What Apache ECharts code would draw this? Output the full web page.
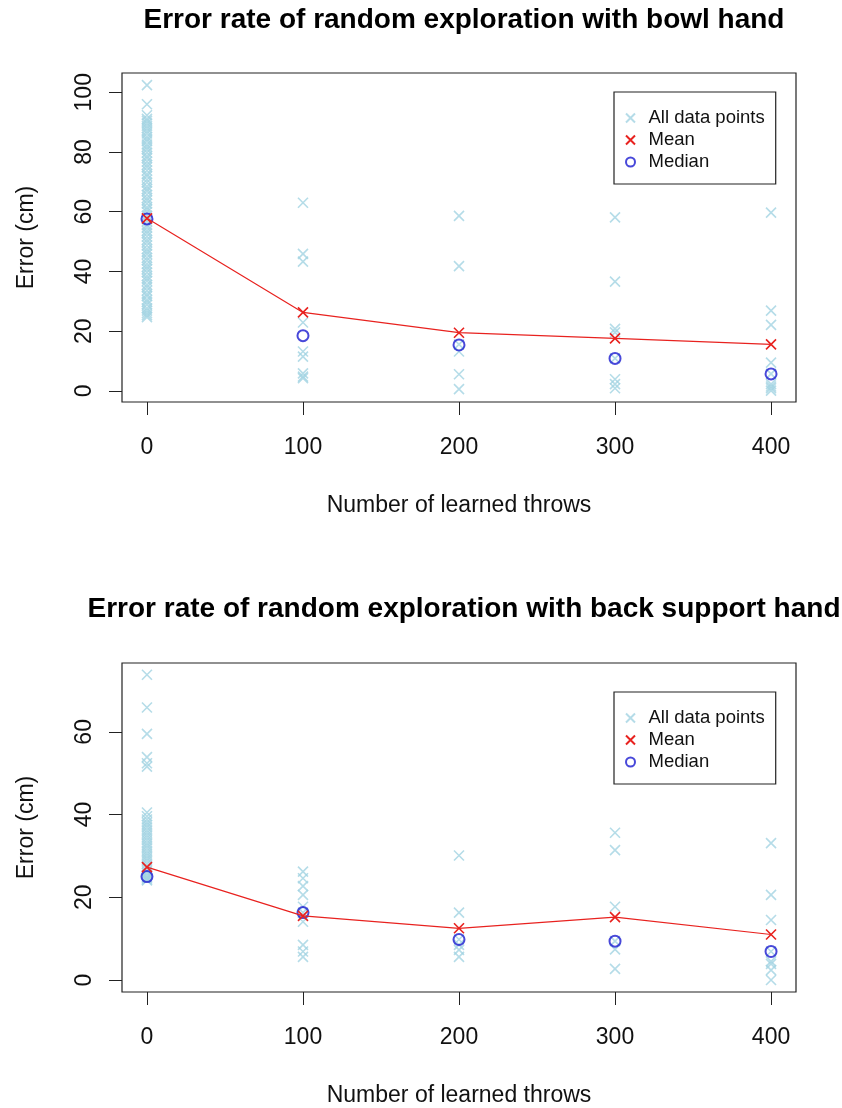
<!DOCTYPE html>
<html>
<head>
<meta charset="utf-8">
<script src="https://cdn.jsdelivr.net/npm/echarts@6/dist/echarts.min.js"></script>
<style>
html,body{margin:0;padding:0;background:#fff;}
#c{width:842px;height:1108px;}
</style>
</head>
<body>
<div id="c"></div>
<script>
// ---- data ----
var xCats = [0, 100, 200, 300, 400];
var xTicks = [0, 100, 200, 300, 400];
var yTicksTop = [0, 20, 40, 60, 80, 100];
var yTicksBottom = [0, 20, 40, 60];

var titleTop = 'Error rate of random exploration with bowl hand';
var titleBottom = 'Error rate of random exploration with back support hand';
var xName = 'Number of learned throws';
var yName = 'Error (cm)';

// bowl hand: all data points at each number of learned throws
var bowl0 = [102.4, 96.0, 92.3, 91.1, 90.4, 89.6, 88.7, 87.9, 87.0, 86.2, 85.1, 84.3, 83.6, 82.5, 81.7, 80.9, 79.8, 78.6, 77.9, 76.8, 75.7, 74.9, 73.8, 72.6, 71.9, 70.7, 69.8, 68.5, 67.6, 66.9, 65.7, 64.6, 63.8, 62.7, 61.5, 60.8, 59.9, 58.7, 57.6, 56.8, 55.5, 54.7, 53.6, 52.8, 51.7, 50.6, 49.8, 48.7, 47.5, 46.6, 45.8, 44.6, 43.7, 42.5, 41.6, 40.8, 39.7, 38.5, 37.6, 36.8, 35.5, 34.7, 33.6, 32.4, 31.7, 30.5, 29.8, 28.9, 27.7, 26.9, 26.1, 25.4, 24.7];
var bowl100 = [63.0, 45.9, 43.3, 22.9, 13.2, 11.5, 5.9, 4.8, 4.3];
var bowl200 = [58.6, 41.8, 15.6, 13.2, 5.6, 0.6];
var bowl300 = [58.1, 36.6, 20.8, 19.6, 10.9, 3.9, 2.3, 0.9];
var bowl400 = [59.7, 26.9, 22.1, 9.5, 5.7, 2.3, 1.5, 0.9, 0.1];
var bowlMean = [57.8, 26.3, 19.5, 17.6, 15.6];
var bowlMedian = [57.6, 18.5, 15.4, 10.9, 5.7];

// back support hand
var back0 = [73.8, 65.9, 59.5, 53.9, 52.4, 51.6, 40.5, 39.6, 38.8, 38.1, 37.5, 36.9, 36.2, 35.6, 35.0, 34.4, 33.8, 33.1, 32.5, 31.9, 31.2, 30.6, 30.0, 29.4, 28.8, 28.1, 27.5, 26.9, 26.3, 25.8, 25.3, 24.9, 24.6, 24.3, 24.1];
var back100 = [26.2, 24.6, 22.7, 20.6, 17.7, 16.3, 14.1, 8.5, 6.9, 5.6];
var back200 = [30.1, 16.3, 9.8, 8.5, 7.3, 5.6];
var back300 = [35.6, 31.4, 17.7, 9.4, 7.4, 2.7];
var back400 = [33.1, 20.6, 14.5, 6.9, 4.5, 3.9, 2.4, 0.0];
var backMean = [27.3, 15.5, 12.5, 15.2, 11.0];
var backMedian = [25.0, 16.3, 9.8, 9.4, 6.9];

// ---- build ----
var FONT = "'Liberation Sans', Arial, Helvetica, sans-serif";
var CROSS = 'path://M0,0L10,10M10,0L0,10';
var cLight = '#a3d3e2', cRed = '#e8221f', cBlue = '#1a1ad0';

function points(groups) {
  var out = [];
  for (var i = 0; i < groups.length; i++)
    for (var j = 0; j < groups[i].length; j++) out.push([xCats[i], groups[i][j]]);
  return out;
}
function pairs(vals) { return vals.map(function (v, i) { return [xCats[i], v]; }); }

function xAxis(gi) {
  return {
    gridIndex: gi, type: 'value', min: -16, max: 416,
    name: xName, nameLocation: 'middle', nameGap: 92,
    nameTextStyle: { fontFamily: FONT, fontSize: 23, color: '#111' },
    axisLine: { show: false, onZero: false },
    axisTick: { show: true, inside: false, length: 13, customValues: xTicks, lineStyle: { color: '#222', width: 1 } },
    axisLabel: { customValues: xTicks, margin: 34, fontFamily: FONT, fontSize: 23, color: '#111' },
    splitLine: { show: false }
  };
}
function yAxis(gi, mn, mx, ticks) {
  return {
    gridIndex: gi, type: 'value', min: mn, max: mx,
    name: yName, nameLocation: 'middle', nameGap: 84,
    nameTextStyle: { fontFamily: FONT, fontSize: 23, color: '#111' },
    axisLine: { show: false, onZero: false },
    axisTick: { show: true, inside: false, length: 13, customValues: ticks, lineStyle: { color: '#222', width: 1 } },
    axisLabel: { customValues: ticks, rotate: 90, margin: 26, fontFamily: FONT, fontSize: 23, color: '#111' },
    splitLine: { show: false }
  };
}
function legend(top) {
  return {
    orient: 'vertical', left: 614, top: top,
    data: [
      { name: 'All data points', icon: CROSS },
      { name: 'Mean', icon: CROSS },
      { name: 'Median', icon: 'circle' }
    ],
    itemWidth: 26, itemHeight: 9, itemGap: 2,
    padding: [16, 11, 12, 11],
    borderColor: '#222', borderWidth: 1.2, borderRadius: 0,
    backgroundColor: '#fff',
    textStyle: { fontFamily: FONT, fontSize: 18.5, color: '#111', lineHeight: 20 },
    selectedMode: false
  };
}
function seriesSet(gi, groups, mean, median) {
  return [
    { name: 'All data points', type: 'scatter', xAxisIndex: gi, yAxisIndex: gi,
      data: points(groups), symbol: CROSS, symbolSize: 10,
      itemStyle: { color: 'rgba(0,0,0,0)', borderColor: cLight, borderWidth: 1.6 }, silent: true },
    { name: 'Mean', type: 'line', xAxisIndex: gi, yAxisIndex: gi,
      data: pairs(mean), symbol: CROSS, symbolSize: 10, showSymbol: true,
      lineStyle: { color: cRed, width: 1.2 },
      itemStyle: { color: 'rgba(0,0,0,0)', borderColor: cRed, borderWidth: 1.6 }, silent: true },
    { name: 'Median', type: 'scatter', xAxisIndex: gi, yAxisIndex: gi,
      data: pairs(median), symbol: 'circle', symbolSize: 11,
      itemStyle: { color: 'rgba(0,0,0,0)', borderColor: cBlue, borderWidth: 2 }, silent: true }
  ];
}

var option = {
  animation: false,
  backgroundColor: '#fff',
  title: [
    { text: titleTop, left: 459, textAlign: 'center', top: 1,
      textStyle: { fontFamily: FONT, fontSize: 28, fontWeight: 'bold', color: '#000' } },
    { text: titleBottom, left: 459, textAlign: 'center', top: 590,
      textStyle: { fontFamily: FONT, fontSize: 28, fontWeight: 'bold', color: '#000' } }
  ],
  grid: [
    { left: 122, width: 674, top: 73, height: 329, show: true, borderColor: '#222', borderWidth: 1.2, backgroundColor: 'rgba(0,0,0,0)' },
    { left: 122, width: 674, top: 663, height: 329, show: true, borderColor: '#222', borderWidth: 1.2, backgroundColor: 'rgba(0,0,0,0)' }
  ],
  xAxis: [xAxis(0), xAxis(1)],
  yAxis: [yAxis(0, -3.7, 106.45, yTicksTop), yAxis(1, -2.9, 76.65, yTicksBottom)],
  legend: [legend(92), legend(692)],
  series: [].concat(
    seriesSet(0, [bowl0, bowl100, bowl200, bowl300, bowl400], bowlMean, bowlMedian),
    seriesSet(1, [back0, back100, back200, back300, back400], backMean, backMedian)
  )
};

var chart = echarts.init(document.getElementById('c'), null, { renderer: 'canvas' });
chart.setOption(option);
</script>
</body>
</html>
